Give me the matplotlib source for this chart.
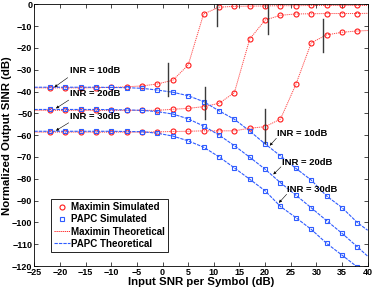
import matplotlib
matplotlib.use('Agg')
import matplotlib.pyplot as plt

plt.rcParams['font.family'] = ['Liberation Sans', 'DejaVu Sans']
plt.rcParams['font.weight'] = 'bold'

# simulated points
snr_sim = [-22, -19, -16, -13, -10, -7, -4, -1, 2, 5, 8, 11, 14, 17, 20, 23, 26, 29, 32, 35, 38]

maximin_10 = [-38.3, -38.3, -38.3, -38.2, -38.1, -37.8, -37.4, -36.5, -34.8, -27.8, -4.4,
              -1.3, -0.9, -0.8, -0.7, -0.6, -0.6, -0.5, -0.5, -0.5, -0.5]
maximin_20 = [-48.6, -48.6, -48.6, -48.6, -48.6, -48.6, -48.6, -48.6, -48.1, -47.7, -46.9,
              -45.4, -40.5, -15.9, -7.2, -5.0, -4.4, -4.3, -4.2, -4.2, -4.2]
maximin_30 = [-58.6, -58.6, -58.6, -58.6, -58.6, -58.6, -58.6, -58.5, -58.3, -58.2, -58.0,
              -58.0, -58.0, -56.8, -56.1, -52.6, -36.7, -17.6, -14.0, -12.8, -12.2]

papc_10 = [-38.0, -38.0, -38.0, -38.0, -38.1, -38.2, -38.5, -39.3, -40.3, -41.9, -44.6,
           -48.8, -52.7, -58.1, -64.0, -69.5, -75.2, -80.6, -87.9, -93.2, -100.1]
papc_20 = [-48.2, -48.2, -48.2, -48.2, -48.3, -48.4, -48.6, -49.2, -50.3, -52.5, -55.8,
           -59.9, -64.8, -70.1, -75.6, -81.8, -87.5, -93.3, -99.2, -105.0, -111.2]
papc_30 = [-58.2, -58.2, -58.2, -58.2, -58.2, -58.3, -58.4, -59.1, -60.4, -62.6, -65.5,
           -69.9, -75.0, -80.2, -85.5, -92.7, -97.8, -103.2, -109.6, -115.0, -120.5]

# theoretical curves, extended to the axis ends
snr_th = [-25] + snr_sim + [40]
maximin_th = [[-38.3] + maximin_10 + [-0.5],
              [-48.6] + maximin_20 + [-4.1],
              [-58.6] + maximin_30 + [-12.0]]
papc_th = [[-38.0] + papc_10 + [-103.6],
           [-48.2] + papc_20 + [-115.5],
           [-58.2] + papc_30 + [-124.0]]

# short vertical markers: (snr, y_top, y_bottom)
vmarks = [(1.0, -26.7, -41.9), (10.7, 0.0, -9.8), (20.6, 0.0, -13.7),
          (31.2, -6.8, -22.0), (8.2, -38.0, -52.7), (20.0, -48.1, -63.7)]

# annotations: label, text pos, arrow tail, arrow tip
notes = [('INR = 10dB', (-18.1, -30.5), (-18.5, -33.6), (-21.1, -38.0)),
         ('INR = 20dB', (-18.1, -41.1), (-18.3, -43.9), (-20.8, -47.7)),
         ('INR = 30dB', (-18.1, -51.5), (-18.3, -54.3), (-20.8, -57.9)),
         ('INR = 10dB', (22.3, -59.4), (22.2, -61.4), (20.9, -64.8)),
         ('INR = 20dB', (23.2, -72.5), (23.1, -74.5), (21.6, -78.0)),
         ('INR = 30dB', (24.2, -85.1), (24.2, -87.1), (22.7, -91.0))]

red = '#ff1a1a'
blue = '#2f5cff'

fig = plt.figure(figsize=(3.74, 2.92), dpi=100)
ax = fig.add_axes([0.092, 0.089, 0.891, 0.896])

for y in maximin_th:
    ax.plot(snr_th, y, color=red, ls=':', dashes=(1.2, 0.9), lw=0.7, alpha=0.8)
for y in papc_th:
    ax.plot(snr_th, y, color=blue, ls='--', dashes=(3, 1), lw=0.8)
for y in [maximin_10, maximin_20, maximin_30]:
    ax.plot(snr_sim, y, ls='none', marker='o', ms=3.6, mfc='none', mec=red, mew=0.8)
for y in [papc_10, papc_20, papc_30]:
    ax.plot(snr_sim, y, ls='none', marker='s', ms=3.0, mfc='none', mec=blue, mew=0.8)

for x, y0, y1 in vmarks:
    ax.plot([x, x], [y0, y1], color='#3a3a3a', lw=1.0)

for label, tpos, tail, tip in notes:
    ax.annotate('', xy=tip, xytext=tail,
                arrowprops=dict(arrowstyle='-|>', color='k', lw=0.4,
                                mutation_scale=4, shrinkA=0, shrinkB=0))
    ax.text(tpos[0], tpos[1], label, fontsize=6.8, fontweight='bold',
            ha='left', va='center')

# legend proxies
h1, = ax.plot([], [], ls='none', marker='o', ms=3.6, mfc='none', mec=red, mew=0.8)
h2, = ax.plot([], [], ls='none', marker='s', ms=3.0, mfc='none', mec=blue, mew=0.8)
h3, = ax.plot([], [], color=red, ls=':', dashes=(1.2, 0.9), lw=0.7)
h4, = ax.plot([], [], color=blue, ls='--', dashes=(3, 1), lw=0.8)
leg = ax.legend([h1, h2, h3, h4],
                ['Maximin Simulated', 'PAPC Simulated', 'Maximin Theoretical', 'PAPC Theoretical'],
                loc='lower left', bbox_to_anchor=(0.05, 0.055), fontsize=7,
                frameon=True, fancybox=False, edgecolor='k', framealpha=1,
                handlelength=1.6, handletextpad=0.2, borderpad=0.3,
                labelspacing=0.22, borderaxespad=0)
leg.get_frame().set_linewidth(0.6)

ax.set_xlim(-25, 40)
ax.set_ylim(-120, 0)
ax.set_xticks(list(range(-25, 41, 5)))
ax.set_yticks(list(range(-120, 1, 10)))
ax.tick_params(direction='in', length=3, width=0.5, top=True, right=True,
               labelsize=6.5, pad=1.5)
for lab in ax.get_xticklabels() + ax.get_yticklabels():
    lab.set_fontweight('bold')
for s in ax.spines.values():
    s.set_linewidth(0.6)

ax.set_xlabel('Input SNR per Symbol (dB)', fontsize=8.2, fontweight='bold', labelpad=0)
ax.set_ylabel('Normalized Output SINR (dB)', fontsize=8.2, fontweight='bold', labelpad=0)

fig.savefig('out.png', dpi=100)
